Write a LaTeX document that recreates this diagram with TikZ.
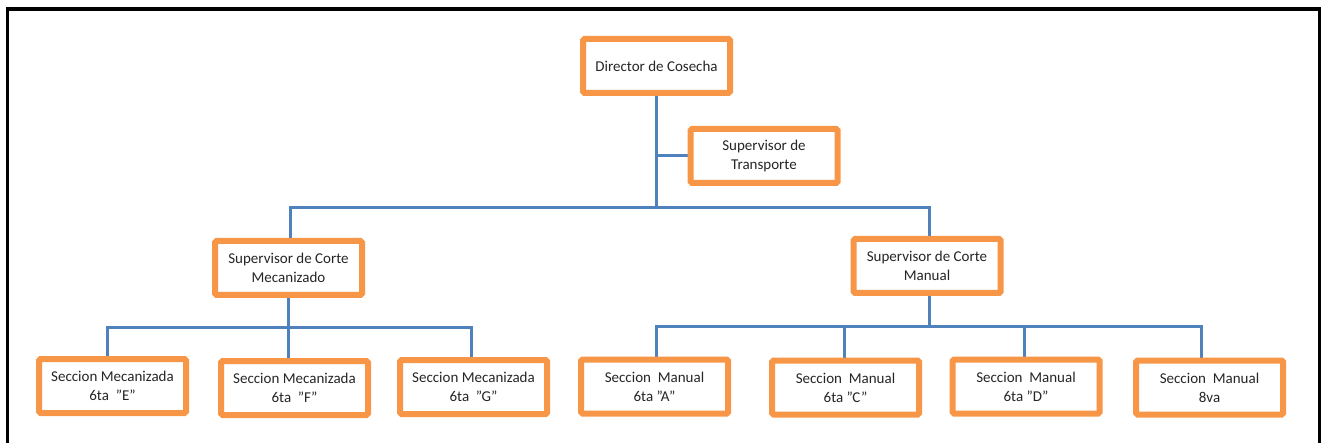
\documentclass[tikz,border=0pt]{standalone}
\usepackage{fontspec}
\setmainfont{Carlito}
\usetikzlibrary{backgrounds}
\definecolor{boxorange}{HTML}{F79646}
\definecolor{linkblue}{HTML}{4F81BD}
\newcommand{\dq}{\symbol{34}}
\tikzset{
  orgbox/.style={draw=boxorange, line width=6pt, fill=white, rounded corners=1.5pt,
    minimum width=147pt, minimum height=54pt, inner sep=0pt, align=center,
    font=\fontsize{15}{18.7}\selectfont, text=black!85},
  conn/.style={draw=linkblue, line width=3pt},
  frame/.style={draw=black, line width=3.5pt}
}
\begin{document}
\begin{tikzpicture}[x=1pt,y=-1pt]
\useasboundingbox (0,0) rectangle (1327,443);
\draw[frame] (7.5,445) -- (7.5,9) -- (1319.5,9) -- (1319.5,445);

\node[orgbox] (dir) at (656.5,66) {Director de Cosecha};
\node[orgbox] (trans) at (764,156) {Supervisor de\\Transporte};
\node[orgbox] (mec) at (288.5,268) {Supervisor de Corte\\Mecanizado};
\node[orgbox] (man) at (927,266) {Supervisor de Corte\\Manual};
\node[orgbox] (e) at (112.5,386) {Seccion Mecanizada\\6ta ~\dq E\dq};
\node[orgbox] (f) at (294.5,388) {Seccion Mecanizada\\6ta ~\dq F\dq};
\node[orgbox] (g) at (473.5,387) {Seccion Mecanizada\\6ta ~\dq G\dq};
\node[orgbox] (a) at (654.5,386.5) {Seccion ~Manual\\6ta \dq A\dq};
\node[orgbox] (c) at (845.5,387.5) {Seccion ~Manual\\6ta \dq C\dq};
\node[orgbox] (d) at (1026,386.5) {Seccion ~Manual\\6ta \dq D\dq};
\node[orgbox] (h) at (1209.5,387.5) {Seccion ~Manual\\8va};

\coordinate (b1) at (656,208);
\coordinate (b2) at (0,328);
\coordinate (b3) at (0,327);

\begin{scope}[on background layer]
\draw[conn] (dir.south) -- (dir.south |- b1);
\draw[conn] (dir.south |- trans.west) -- (trans.west);
\draw[conn] ([xshift=1.5pt]mec.north) |- ([xshift=2pt]man.north |- b1) -- ([xshift=2pt]man.north);
\draw[conn] ([xshift=-5pt]e.north) |- ([xshift=-2pt]g.north |- b2) -- ([xshift=-2pt]g.north);
\draw[conn] (mec.south) -- (mec.south |- f.north);
\draw[conn] ([xshift=1.5pt]a.north) |- ([xshift=-8pt]h.north |- b3) -- ([xshift=-8pt]h.north);
\draw[conn] ([xshift=2pt]man.south) -- ([xshift=2pt]man.south |- b3);
\draw[conn] ([xshift=-1.5pt]c.north) -- ([xshift=-1.5pt]c.north |- b3);
\draw[conn] ([xshift=-2pt]d.north) -- ([xshift=-2pt]d.north |- b3);
\end{scope}
\end{tikzpicture}
\end{document}
